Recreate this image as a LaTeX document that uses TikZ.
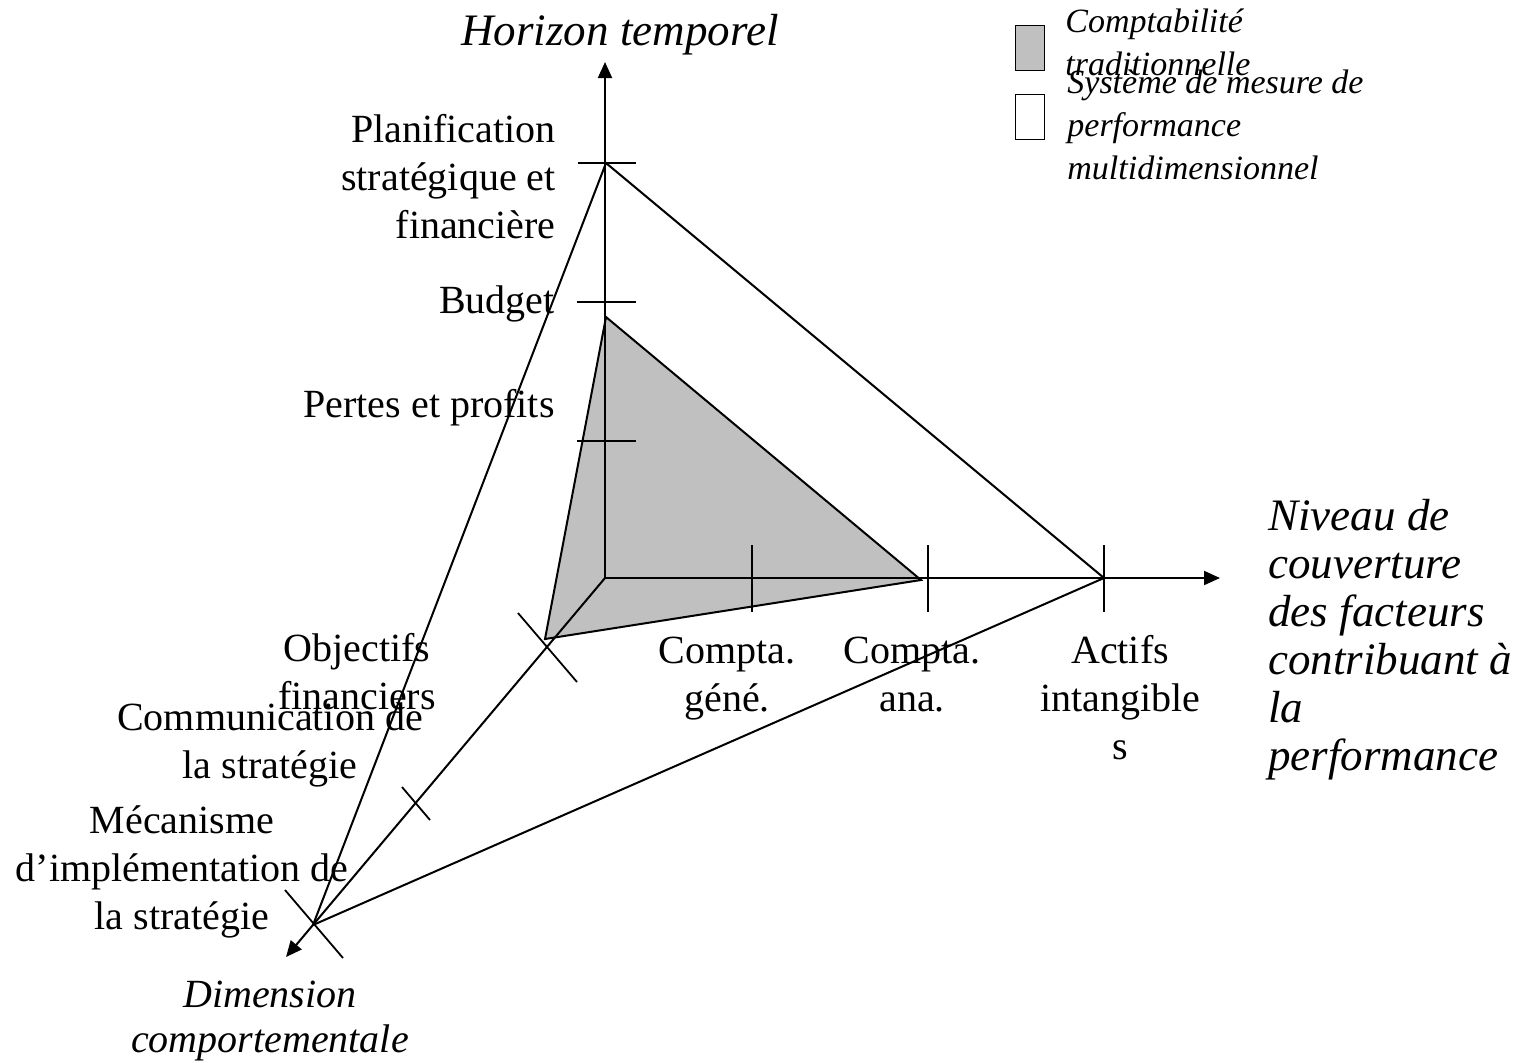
\documentclass[tikz,border=0pt]{standalone}
\usepackage{fontspec}
\setmainfont{Liberation Serif}
\usetikzlibrary{arrows.meta}
\definecolor{grayfill}{HTML}{C0C0C0}
\begin{document}
\begin{tikzpicture}[x=0.5pt,y=-0.5pt,
  axis/.style={line width=1pt,-{Triangle[length=8pt,width=7pt]}},
  ln/.style={line width=1pt},
  tickline/.style={line width=0.9pt},
  lbl/.style={font=\fontsize{20}{24}\selectfont, inner sep=0pt},
  ilbl/.style={font=\fontsize{20}{22.5}\selectfont\itshape, inner sep=0pt, align=center},
  big/.style={font=\fontsize{22.5}{24}\selectfont\itshape, inner sep=0pt},
  leg/.style={font=\fontsize{17}{21.5}\selectfont\itshape, inner sep=0pt, align=left},
  legbox/.style={draw, line width=0.9pt, minimum width=14.5pt, minimum height=22.5pt, inner sep=0pt},
]
\useasboundingbox (0,0) rectangle (1522,1062);
% axes points
\coordinate (O) at (605,578);
\coordinate (Vtip) at (605,62);
\coordinate (Htip) at (1220,578);
\coordinate (Dtip) at (286,957);
% shaded polygon
\coordinate (P1) at (606,317);
\coordinate (P2) at (545,639);
\coordinate (P3) at (921,580);
% big triangle
\coordinate (T1) at (606,163);
\coordinate (T2) at (1104,578);
\coordinate (T3) at (313,925);

\fill[grayfill] (P1) -- (P2) -- (P3) -- cycle;
\draw[axis] (O) -- (Vtip);
\draw[axis] (O) -- (Htip);
\draw[axis] (O) -- (Dtip);
\draw[ln] (P1) -- (P3) -- (P2) -- cycle;
\draw[ln] (T1) -- (T2) -- (T3) -- cycle;

% ticks on vertical axis
\coordinate (a1) at (578,163); \coordinate (a2) at (636,163);
\coordinate (b1) at (577,302); \coordinate (b2) at (636,302);
\coordinate (c1) at (577,441); \coordinate (c2) at (636,441);
\draw[tickline] (a1) -- (a2);
\draw[tickline] (b1) -- (b2);
\draw[tickline] (c1) -- (c2);
% ticks on horizontal axis
\coordinate (d1) at (752,545); \coordinate (d2) at (752,612);
\coordinate (e1) at (928,545); \coordinate (e2) at (928,612);
\coordinate (f1) at (1104,545); \coordinate (f2) at (1104,612);
\draw[tickline] (d1) -- (d2);
\draw[tickline] (e1) -- (e2);
\draw[tickline] (f1) -- (f2);
% ticks on diagonal axis
\coordinate (g1) at (518,613); \coordinate (g2) at (577,682);
\coordinate (h1) at (402,787); \coordinate (h2) at (430,820);
\coordinate (k1) at (285,890); \coordinate (k2) at (343,958);
\draw[tickline] (g1) -- (g2);
\draw[tickline] (h1) -- (h2);
\draw[tickline] (k1) -- (k2);

% axis titles (anchor = baseline of last line)
\node[big, anchor=base] (tH) at (620,45) {Horizon temporel};
\node[big, anchor=base west, align=left] (tN) at (1268,770)
  {Niveau de\\couverture\\des facteurs\\contribuant à\\la\\performance};
\node[ilbl, anchor=base] (tD) at (270,1052) {Dimension\\comportementale};

% vertical axis labels
\node[lbl, anchor=base east, align=right] (lP) at (556,238)
  {Planification\\stratégique et\\financière};
\node[lbl, anchor=base east] (lB) at (555,313) {Budget};
\node[lbl, anchor=base east] (lPP) at (555,417) {Pertes et profits};

% horizontal axis labels
\node[lbl, anchor=base, align=center] (lG) at (727,711) {Compta.\\géné.};
\node[lbl, anchor=base, align=center] (lA) at (912,711) {Compta.\\ana.};
\node[lbl, anchor=base, align=center] (lI) at (1120,759) {Actifs\\intangible\\s};

% diagonal axis labels
\node[lbl, anchor=base, align=center] (lO) at (357,709) {Objectifs\\financiers};
\node[lbl, anchor=base, align=center] (lC) at (270,778) {Communication de\\la stratégie};
\node[lbl, anchor=base, align=center] (lM) at (182,929) {Mécanisme\\d’implémentation de\\la stratégie};

% legend
\node[legbox, fill=grayfill] (bx1) at (1030,48) {};
\node[legbox, fill=white] (bx2) at (1030,117) {};
\node[leg, anchor=base west] (lg1) at (1065,75) {Comptabilité\\traditionnelle};
\node[leg, anchor=base west] (lg2) at (1067,179) {Système de mesure de\\performance\\multidimensionnel};
\end{tikzpicture}
\end{document}
